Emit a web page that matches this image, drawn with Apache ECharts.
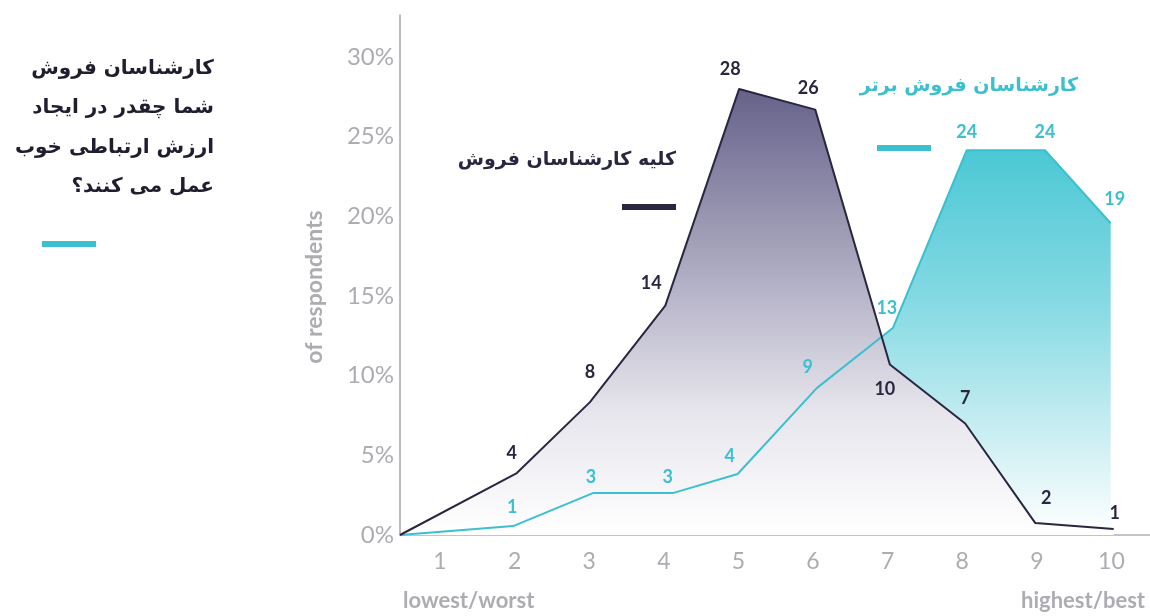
<!DOCTYPE html>
<html><head><meta charset="utf-8">
<script src="https://cdn.jsdelivr.net/npm/echarts@6/dist/echarts.min.js"></script>
<style>html,body{margin:0;padding:0;background:#fff}#c{width:1150px;height:616px}</style>
</head><body><div id="c"></div>
<script>
// ---- data ----
const xTicks = [1,2,3,4,5,6,7,8,9,10];
const yTicks = [0,5,10,15,20,25,30];
const ratingsAll = [0.464, 2.03, 3.01, 4.02, 5.01, 6.03, 7.03, 8.04, 8.98, 10.03];
const valuesAll  = [0, 3.89, 8.34, 14.4, 28.0, 26.7, 10.7, 7.0, 0.75, 0.38];
const labelsAll  = ['', '4', '8', '14', '28', '26', '10', '7', '2', '1'];
const ratingsTop = [0.464, 1.98, 3.05, 4.12, 4.99, 6.05, 7.07, 8.06, 9.11, 9.99];
const valuesTop  = [0, 0.56, 2.63, 2.63, 3.83, 9.22, 12.99, 24.15, 24.15, 19.57];
const labelsTop  = ['', '1', '3', '3', '4', '9', '13', '24', '24', '19'];
const nameAll = 'کلیه کارشناسان فروش';
const nameTop = 'کارشناسان فروش برتر';
const titleLines = ['کارشناسان فروش', 'شما چقدر در ایجاد', 'ارزش ارتباطی خوب', 'عمل می کنند؟'];
const yAxisName = 'of respondents';
const xLowName = 'lowest/worst';
const xHighName = 'highest/best';

// ---- label placement (style) ----
const offAll = [[0,0],[-5,-20],[0,-30],[-14,-22],[-9,-20],[-7,-21],[-5,25],[0,-25],[11,-25],[1,-16]];
const offTop = [[0,0],[-1,-19],[-2,-16],[-5,-16],[-8,-18],[-9,-21],[-6,-20],[0,-18],[0,-18],[4,-24]];

const DARK = '#29263f', CYAN = '#3cbfcf', GRAY = '#adacb2';
const RLM = '\u200F';

function pts(xs, ys, labels, offs, color) {
  return xs.map((x, i) => ({
    value: [x, ys[i]],
    label: { show: labels[i] !== '', formatter: labels[i], offset: offs[i], color: color }
  }));
}
function plain(xs, ys) { return xs.map((x, i) => [x, ys[i]]); }

const chart = echarts.init(document.getElementById('c'), null, {renderer: 'canvas'});
const labelBase = { position: 'inside', fontFamily: 'Lato', fontWeight: 'bold', fontSize: 18 };

chart.setOption({
  animation: false,
  grid: { left: 400, right: 0, top: 15, bottom: 81, containLabel: false },
  xAxis: {
    type: 'value', min: 0.464, max: 10.517,
    axisLine: { show: true, lineStyle: { color: '#c4c4c6', width: 2 } },
    axisTick: { show: false },
    splitLine: { show: false },
    axisLabel: { customValues: xTicks, color: GRAY, fontFamily: 'Lato', fontSize: 23, margin: 15,
                 formatter: v => String(Math.round(v)) }
  },
  yAxis: {
    type: 'value', min: 0, max: 32.64,
    axisLine: { show: true, lineStyle: { color: '#a9a9ad', width: 1.5 } },
    axisTick: { show: false },
    splitLine: { show: false },
    axisLabel: { customValues: yTicks, color: GRAY, fontFamily: 'Lato', fontSize: 24, margin: 6,
                 formatter: v => Math.round(v) + '%' }
  },
  series: [
    { type: 'line', data: plain(ratingsTop, valuesTop), symbol: 'none', silent: true, z: 1,
      lineStyle: { width: 0 },
      areaStyle: { opacity: 1, color: { type: 'linear', x: 0, y: 0, x2: 0, y2: 1, colorStops: [
        { offset: 0, color: '#4bc8d5' }, { offset: 0.4, color: '#86dae3' },
        { offset: 0.75, color: '#cdeff3' }, { offset: 1, color: '#ffffff' }] } } },
    { type: 'line', data: plain(ratingsAll, valuesAll), symbol: 'none', silent: true, z: 2,
      lineStyle: { width: 0 },
      areaStyle: { opacity: 1, color: { type: 'linear', x: 0, y: 0, x2: 0, y2: 1, colorStops: [
        { offset: 0, color: '#65618a' }, { offset: 0.45, color: '#b5b3c7' },
        { offset: 0.72, color: '#e6e5ec' }, { offset: 1, color: '#ffffff' }] } } },
    { type: 'line', data: pts(ratingsTop, valuesTop, labelsTop, offTop, CYAN), z: 3,
      symbol: 'circle', symbolSize: 0.1, showSymbol: true,
      itemStyle: { color: CYAN }, lineStyle: { color: CYAN, width: 2 }, label: labelBase },
    { type: 'line', data: pts(ratingsAll, valuesAll, labelsAll, offAll, DARK), z: 4,
      symbol: 'circle', symbolSize: 0.1, showSymbol: true,
      itemStyle: { color: DARK }, lineStyle: { color: DARK, width: 2 }, label: labelBase }
  ],
  graphic: [
    { type: 'text', x: 214, y: 49, style: { text: titleLines.map(t => t + RLM).join('\n'), textAlign: 'right',
      fill: '#1f1d2e', font: 'bold 20px "DejaVu Sans"', lineHeight: 39.5 } },
    { type: 'rect', shape: { x: 42, y: 241, width: 54, height: 6 }, style: { fill: CYAN } },
    { type: 'text', x: 676, y: 160, style: { text: nameAll + RLM, textAlign: 'right', textVerticalAlign: 'middle',
      fill: DARK, font: 'bold 19px "DejaVu Sans"' } },
    { type: 'rect', shape: { x: 622, y: 204, width: 54, height: 6 }, style: { fill: DARK } },
    { type: 'text', x: 1078, y: 86, style: { text: nameTop + RLM, textAlign: 'right', textVerticalAlign: 'middle',
      fill: CYAN, font: 'bold 19px "DejaVu Sans"' } },
    { type: 'rect', shape: { x: 877, y: 145, width: 54, height: 6 }, style: { fill: CYAN } },
    { type: 'text', x: 315, y: 287, rotation: Math.PI / 2, style: { text: yAxisName, textAlign: 'center',
      textVerticalAlign: 'middle', fill: GRAY, font: 'bold 23px Lato' } },
    { type: 'text', x: 403, y: 601, style: { text: xLowName, textAlign: 'left', textVerticalAlign: 'middle',
      fill: GRAY, font: 'bold 22px Lato' } },
    { type: 'text', x: 1145, y: 601, style: { text: xHighName, textAlign: 'right', textVerticalAlign: 'middle',
      fill: GRAY, font: 'bold 22px Lato' } }
  ]
});
</script></body></html>
